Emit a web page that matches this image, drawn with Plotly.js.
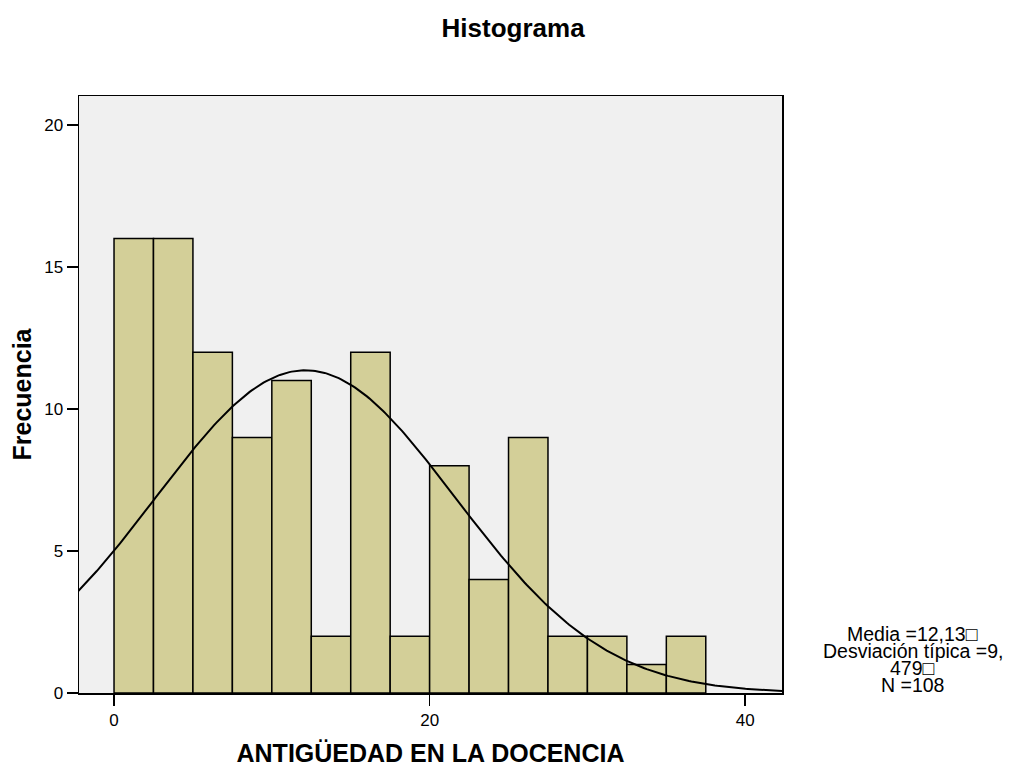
<!DOCTYPE html>
<html>
<head>
<meta charset="utf-8">
<script src="https://cdn.plot.ly/plotly-3.0.1.min.js"></script>
<style>html,body{margin:0;padding:0;background:#fff;}#chart{width:1010px;height:767px;}</style>
</head>
<body>
<div id="chart"></div>
<script>
// Histogram bins (lower edges, years) and frequencies
const binLower = [0, 2.5, 5, 7.5, 10, 12.5, 15, 17.5, 20, 22.5, 25, 27.5, 30, 32.5, 35];
const counts   = [16, 16, 12, 9, 11, 2, 12, 2, 8, 4, 9, 2, 2, 1, 2];
const binWidth = 2.5;
// Fitted normal statistics shown in the chart
const mean = 12.13;
const sd = 9.479;
const nObs = 108;
const statsLines = ["Media =12,13\u25A1", "Desviación típica =9,", "479\u25A1", "N =108"];
const xTickVals = [0, 20, 40];
const yTickVals = [0, 5, 10, 15, 20];

const barX = binLower.map(v => v + binWidth / 2);

// Normal curve scaled to the histogram (N * bin width)
const curveX = [], curveY = [];
const xMin = -2.3, xMax = 42.4;
for (let i = 0; i <= 300; i++) {
  const x = xMin + (xMax - xMin) * i / 300;
  const z = (x - mean) / sd;
  curveX.push(x);
  curveY.push(nObs * binWidth * Math.exp(-0.5 * z * z) / (sd * Math.sqrt(2 * Math.PI)));
}

const font = "Arial, 'Liberation Sans', sans-serif";

const data = [
  {
    type: 'bar', x: barX, y: counts, width: binWidth,
    marker: {color: '#D3CF98', line: {color: '#000', width: 1.5}},
    hoverinfo: 'x+y', showlegend: false
  },
  {
    type: 'scatter', mode: 'lines', x: curveX, y: curveY,
    line: {color: '#000', width: 2}, hoverinfo: 'skip', showlegend: false
  }
];

// Stats text block: one annotation per line, 17px apart, centred
const plotH = 767 - 96 - 74;
const annotations = statsLines.map((t, i) => ({
  xref: 'paper', yref: 'paper', x: 1.186, y: (59 - i * 17) / plotH,
  xanchor: 'center', yanchor: 'middle', text: t, showarrow: false,
  font: {size: 19.5, family: font, color: '#000'}
}));

const layout = {
  width: 1010, height: 767,
  margin: {l: 79, r: 228, t: 96, b: 74},
  paper_bgcolor: '#fff', plot_bgcolor: '#F0F0F0',
  font: {family: font, color: '#000', size: 17},
  title: {text: '<b>Histograma</b>', font: {family: font, size: 26, color: '#000'},
          x: 0.508, xref: 'container', y: 0.963, yref: 'container', yanchor: 'middle'},
  xaxis: {
    range: [-2.22, 42.33], tickvals: xTickVals, ticktext: xTickVals.map(String),
    ticks: 'outside', ticklen: 11, tickwidth: 1.5, tickcolor: '#000',
    showgrid: false, zeroline: false, showline: true, linecolor: '#000', linewidth: 1.5, mirror: true,
    tickfont: {size: 17, family: font},
    title: {text: '<b>ANTIGÜEDAD EN LA DOCENCIA</b>', font: {size: 25, family: font}, standoff: 23}
  },
  yaxis: {
    range: [0, 21.02], tickvals: yTickVals, ticktext: yTickVals.map(String),
    ticks: 'outside', ticklen: 11, tickwidth: 1.5, tickcolor: '#000',
    showgrid: false, zeroline: false, showline: true, linecolor: '#000', linewidth: 1.5, mirror: true,
    tickfont: {size: 17, family: font},
    title: {text: '<b>Frecuencia</b>', font: {size: 25, family: font}, standoff: 5}
  },
  bargap: 0,
  annotations: annotations
};

Plotly.newPlot('chart', data, layout, {displayModeBar: false, staticPlot: true});
</script>
</body>
</html>
